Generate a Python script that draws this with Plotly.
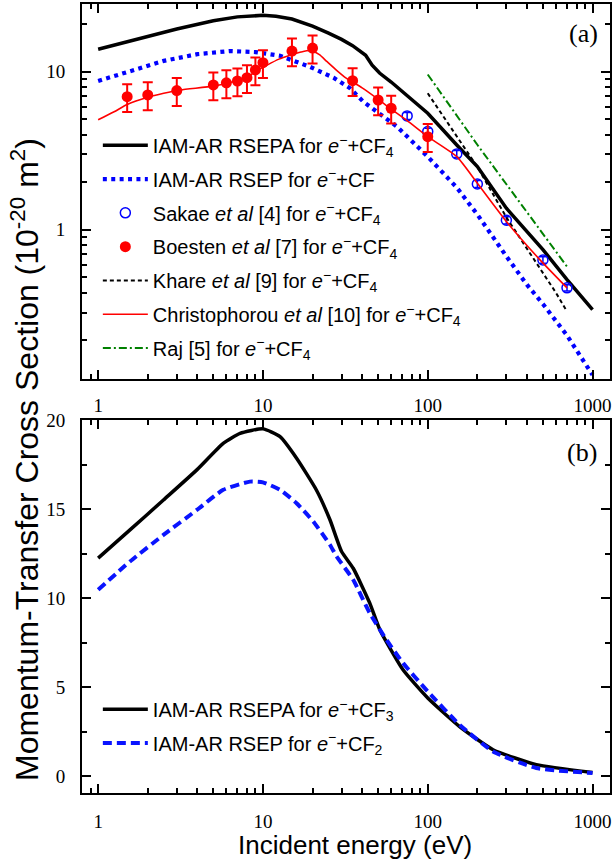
import plotly.graph_objects as go

# ---------------- Panel (a) data (log-log) ----------------
rsepa_cf4_E = [1, 1.5, 2, 3, 5, 7, 10, 12, 15, 20, 25, 30, 35, 40, 42, 46, 51, 60, 70, 80, 100, 150, 200, 300, 500, 700, 1000]
rsepa_cf4_v = [13.85, 15.4, 16.8, 18.6, 21.0, 22.2, 22.7, 22.4, 21.5, 19.4, 17.5, 16.0, 14.6, 13.3, 12.7, 11.0, 9.8, 8.6, 7.5, 6.7, 5.46, 3.44, 2.51, 1.37, 0.75, 0.485, 0.313]

rsep_cf_E = [1, 1.5, 2.5, 4, 6.3, 9, 12.7, 19.4, 26.8, 33.8, 40.7, 65, 100, 150, 200, 300, 400, 500, 700, 1000]
rsep_cf_v = [8.73, 10.0, 11.7, 12.9, 13.5, 13.3, 12.6, 10.7, 9.16, 7.85, 6.45, 4.5, 2.9, 1.85, 1.25, 0.68, 0.45, 0.34, 0.215, 0.121]

sakae_E = [75, 100, 150, 200, 300, 500, 700]
sakae_v = [5.25, 4.18, 3.02, 1.95, 1.15, 0.645, 0.43]
sakae_err = [0.26, 0.21, 0.15, 0.10, 0.06, 0.03, 0.02]

boesten_E = [1.5, 2, 3, 5, 6, 7, 8, 9, 10, 15, 20, 35, 50, 60, 100]
boesten_v = [6.95, 7.13, 7.59, 8.24, 8.5, 8.73, 9.16, 10.25, 11.4, 13.5, 14.1, 8.77, 6.62, 5.87, 3.88]
boesten_err = [1.39, 1.43, 1.52, 1.65, 1.7, 1.75, 1.83, 2.05, 2.28, 2.7, 2.82, 1.75, 1.32, 1.17, 0.78]

khare_E = [100, 150, 200, 300, 400, 500, 600, 700]
khare_v = [7.3, 3.9, 2.5, 1.2, 0.76, 0.54, 0.40, 0.305]

chris_E = [1, 1.25, 1.5, 2, 2.5, 3.15, 5, 6.5, 8, 9, 10.6, 12.5, 14.6, 17, 19.4, 22, 24.4, 28, 32, 40, 49, 59, 75, 100, 150, 200, 300, 480, 700]
chris_v = [4.96, 5.58, 6.2, 6.89, 7.3, 7.66, 8.1, 8.6, 9.2, 10.0, 11.0, 12.0, 12.7, 13.3, 13.6, 12.8, 11.6, 10.2, 9.1, 7.9, 6.8, 5.87, 4.9, 3.88, 2.9, 1.97, 1.13, 0.646, 0.43]

raj_E = [100, 200, 700]
raj_v = [9.6, 3.45, 0.586]

# ---------------- Panel (b) data (log-linear) ----------------
rsepa_cf3_E = [1, 1.56, 2.49, 3.97, 5.74, 7.26, 10, 12.7, 16, 21.1, 25.5, 30, 35.3, 44.5, 51.2, 70.8, 100, 156, 249, 456, 1000]
rsepa_cf3_v = [12.25, 13.83, 15.51, 17.2, 18.69, 19.25, 19.5, 19.06, 17.85, 16.07, 14.4, 12.62, 11.68, 9.72, 8.23, 5.98, 4.4, 2.8, 1.5, 0.66, 0.22]

rsep_cf2_E = [1, 1.56, 2.49, 3.97, 5.74, 8.34, 10, 12.7, 16, 20.2, 25.5, 28, 35.3, 44.5, 56.2, 70.8, 100, 156, 249, 456, 1000]
rsep_cf2_v = [10.47, 12.06, 13.55, 14.95, 16.08, 16.54, 16.5, 16.08, 15.33, 14.3, 13.0, 12.34, 11.03, 9.16, 7.66, 6.36, 4.77, 2.9, 1.4, 0.47, 0.19]

x_tick_vals = [1, 10, 100, 1000]
x_tick_text = ["1", "10", "100", "1000"]

EL = "<i>e</i><sup>\u2212</sup>+CF"

fig = go.Figure()

# Panel (a)
fig.add_trace(go.Scatter(x=rsepa_cf4_E, y=rsepa_cf4_v, mode="lines", name="IAM-AR RSEPA for " + EL + "<sub>4</sub>",
                         line=dict(color="black", width=3.5), xaxis="x", yaxis="y", legend="legend", legendgroup="a1"))
fig.add_trace(go.Scatter(x=rsep_cf_E, y=rsep_cf_v, mode="lines", name="IAM-AR RSEP for " + EL,
                         line=dict(color="#0000ff", width=4.2, dash="4px,4.4px"), xaxis="x", yaxis="y", legend="legend", legendgroup="a2"))
fig.add_trace(go.Scatter(x=sakae_E, y=sakae_v, mode="markers", name="Sakae <i>et al</i> [4] for " + EL + "<sub>4</sub>",
                         marker=dict(symbol="circle-open", size=10, color="#0000ff", line=dict(width=1.5)),
                         error_y=dict(type="data", array=sakae_err, color="#0000ff", thickness=1.5, width=3),
                         xaxis="x", yaxis="y", legend="legend", legendgroup="a3"))
fig.add_trace(go.Scatter(x=boesten_E, y=boesten_v, mode="markers", name="Boesten <i>et al</i> [7] for " + EL + "<sub>4</sub>",
                         marker=dict(symbol="circle", size=11, color="#ff0000"),
                         error_y=dict(type="data", array=boesten_err, color="#ff0000", thickness=2, width=5),
                         xaxis="x", yaxis="y", legend="legend", legendgroup="a4"))
fig.add_trace(go.Scatter(x=khare_E, y=khare_v, mode="lines", name="Khare <i>et al</i> [9] for " + EL + "<sub>4</sub>",
                         line=dict(color="black", width=2, dash="4px,3px"), xaxis="x", yaxis="y", legend="legend", legendgroup="a5"))
fig.add_trace(go.Scatter(x=chris_E, y=chris_v, mode="lines", name="Christophorou <i>et al</i> [10] for " + EL + "<sub>4</sub>",
                         line=dict(color="#ff0000", width=1.6, shape="spline", smoothing=0.6), xaxis="x", yaxis="y", legend="legend", legendgroup="a6"))
fig.add_trace(go.Scatter(x=raj_E, y=raj_v, mode="lines", name="Raj [5] for " + EL + "<sub>4</sub>",
                         line=dict(color="#008000", width=2, dash="8px,3px,2px,3px"), xaxis="x", yaxis="y", legend="legend", legendgroup="a7"))

# Panel (b)
fig.add_trace(go.Scatter(x=rsepa_cf3_E, y=rsepa_cf3_v, mode="lines", name="IAM-AR RSEPA for " + EL + "<sub>3</sub>",
                         line=dict(color="black", width=3.5, shape="spline", smoothing=0.5), xaxis="x2", yaxis="y2", legend="legend2", legendgroup="b1"))
fig.add_trace(go.Scatter(x=rsep_cf2_E, y=rsep_cf2_v, mode="lines", name="IAM-AR RSEP for " + EL + "<sub>2</sub>",
                         line=dict(color="#0a14ff", width=4, dash="9px,5px", shape="spline", smoothing=0.5), xaxis="x2", yaxis="y2", legend="legend2", legendgroup="b2"))

tickfont = dict(family="Liberation Serif", size=19, color="black")
common = dict(showline=True, linewidth=2, linecolor="black", mirror="ticks", ticks="inside", ticklen=9,
              tickwidth=1.5, tickcolor="black", showgrid=False, zeroline=False, tickfont=tickfont)
minor_log = dict(ticks="inside", ticklen=5, tickwidth=1.5, tickcolor="black", showgrid=False, dtick="D1")

fig.update_layout(
    width=614, height=863,
    margin=dict(l=82, r=4, t=4, b=70, autoexpand=False),
    paper_bgcolor="white", plot_bgcolor="white",
    font=dict(family="Liberation Sans", color="black"),
    xaxis=dict(type="log", domain=[0, 1], anchor="y", range=[-0.098, 3.106], tickmode="array",
               tickvals=x_tick_vals, ticktext=x_tick_text, minor=minor_log, ticklabelstandoff=8, **common),
    yaxis=dict(type="log", domain=[0.5247, 1], anchor="x", range=[-0.943, 1.4277], tickmode="array",
               tickvals=[1, 10], ticktext=["1", "10"], minor=minor_log, ticklabelstandoff=11, **common),
    xaxis2=dict(type="log", domain=[0, 1], anchor="y2", range=[-0.098, 3.106], tickmode="array",
                tickvals=x_tick_vals, ticktext=x_tick_text, minor=minor_log, ticklabelstandoff=10, **common),
    yaxis2=dict(domain=[0, 0.4728], anchor="x2", range=[-0.93, 20.0], dtick=5, tick0=0,
                minor=dict(ticks="inside", ticklen=5, tickwidth=1.5, tickcolor="black", dtick=2.5, showgrid=False),
                ticklabelstandoff=11, **common),
    legend=dict(x=0.03, y=0.8457, xanchor="left", yanchor="top", bgcolor="rgba(0,0,0,0)",
                font=dict(family="Liberation Sans", size=20, color="black"), tracegroupgap=4.8, itemwidth=45),
    legend2=dict(x=0.03, y=0.131, xanchor="left", yanchor="top", bgcolor="rgba(0,0,0,0)",
                 font=dict(family="Liberation Sans", size=20, color="black"), tracegroupgap=4.8, itemwidth=45),
    annotations=[
        dict(text="(a)", xref="paper", yref="paper", x=(583 - 82) / 528, y=(793 - 33) / 789, showarrow=False,
             xanchor="center", yanchor="middle", font=dict(family="Liberation Serif", size=26, color="black")),
        dict(text="(b)", xref="paper", yref="paper", x=(582 - 82) / 528, y=(793 - 453) / 789, showarrow=False,
             xanchor="center", yanchor="middle", font=dict(family="Liberation Serif", size=26, color="black")),
        dict(text="Momentum-Transfer Cross Section (10<sup>-20</sup> m<sup>2</sup>)", xref="paper", yref="paper",
             x=(25 - 82) / 528, y=(793 - 460) / 789, textangle=-90, showarrow=False, xanchor="center", yanchor="middle",
             font=dict(family="Liberation Sans", size=32, color="black")),
        dict(text="Incident energy (eV)", xref="paper", yref="paper", x=(355 - 82) / 528, y=(793 - 845) / 789,
             showarrow=False, xanchor="center", yanchor="middle", font=dict(family="Liberation Sans", size=26, color="black")),
    ],
)

fig.write_html("out.html", config={"displayModeBar": False},
               post_script="document.body.style.margin='0';document.body.style.overflow='hidden';")
